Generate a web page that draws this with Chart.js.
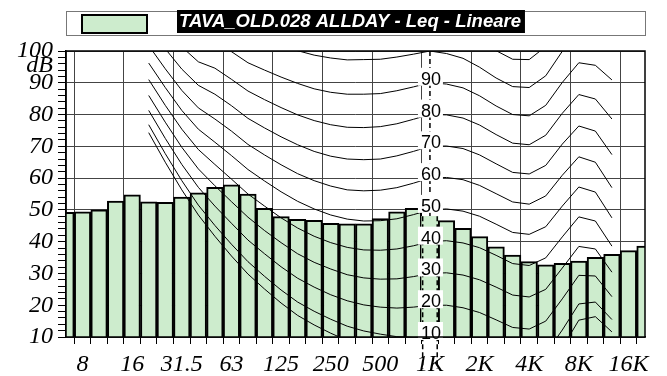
<!DOCTYPE html>
<html>
<head>
<meta charset="utf-8">
<script src="https://cdn.jsdelivr.net/npm/chart.js@4.4.0/dist/chart.umd.min.js"></script>
<style>
html,body{margin:0;padding:0;background:#fff}
#wrap{width:667px;height:376px}
</style>
</head>
<body>
<div id="wrap"><canvas id="myChart" width="667" height="376"></canvas></div>
<script>
// 1/3 octave bands shown on the x axis
var bands = ['6.3','8','10','12.5','16','20','25','31.5','40','50','63','80','100','125','160','200','250','315','400','500','630','800','1K','1.25K','1.6K','2K','2.5K','3.15K','4K','5K','6.3K','8K','10K','12.5K','16K','20K'];
var octaveLabels = ['8','16','31.5','63','125','250','500','1K','2K','4K','8K','16K'];
// measured Leq per band, dB
var leq = [49.2,49.4,50.0,52.8,54.7,52.5,52.4,54.0,55.4,57.1,57.9,55.0,50.5,47.9,47.0,46.7,45.8,45.6,45.6,47.3,49.4,50.5,48.0,46.6,44.2,41.6,38.4,35.8,33.7,32.7,33.2,33.9,35.1,36.0,37.2,38.6];
var labelBand = '1K';
var legendText = 'TAVA_OLD.028 ALLDAY - Leq - Lineare';

// isophone curves, 20 Hz .. 12.5 kHz
var isoFirst = '20';
var phonLabels = [10,20,30,40,50,60,70,80,90];
var threshold = [74.3,65.0,56.3,48.4,41.7,35.5,29.8,25.1,20.7,16.8,13.8,11.2,8.9,7.2,6.0,5.0,4.4,4.2,3.8,2.6,1.0,-1.2,-3.6,-3.9,-1.1,6.6,15.3,16.4,11.6];
var phon10  = [76.8,67.7,59.2,51.5,45.1,39.2,33.7,29.1,24.8,21.0,18.1,15.6,13.4,11.9,10.9,10.1,9.9,10,9.8,8.7,7.2,5.0,2.6,2.2,4.8,12.2,20.4,21.0,15.5];
var phon20  = [81.3,72.5,64.3,57.1,51.2,45.8,40.5,36.2,32.1,28.5,25.7,23.3,21.4,20.1,19.4,19.1,19.4,20,20.0,19.2,17.7,15.4,13.0,12.5,15.0,22.0,29.4,29.2,22.7];
var phon30  = [86.0,77.6,69.7,62.9,57.6,52.6,47.7,43.5,39.7,36.2,33.5,31.4,29.6,28.6,28.2,28.3,29.0,30,30.2,29.5,28.0,25.7,23.2,22.6,25.0,31.7,38.5,37.7,30.4];
var phon40  = [91.0,82.9,75.4,69.0,64.3,59.7,55.0,51.2,47.5,44.3,41.7,39.7,38.2,37.4,37.3,37.7,38.7,40,40.3,39.6,38.1,35.7,33.1,32.5,34.9,41.5,47.8,46.5,38.6];
var phon50  = [96.2,88.5,81.3,75.4,71.3,67.1,62.7,59.1,55.7,52.7,50.3,48.4,47.1,46.5,46.6,47.2,48.5,50,50.3,49.6,48.0,45.5,42.9,42.3,44.7,51.2,57.2,55.6,47.5];
var phon60  = [101.7,94.4,87.6,82.1,78.6,74.8,70.6,67.3,64.2,61.4,59.2,57.5,56.3,56.0,56.2,57.0,58.4,60,60.2,59.5,57.7,55.1,52.5,51.8,54.4,60.9,66.7,65.0,57.0];
var phon70  = [107.6,100.7,94.3,89.2,86.4,82.8,78.8,75.8,73.0,70.5,68.4,66.9,66.0,65.8,66.0,67.0,68.4,70,70.1,69.3,67.3,64.5,61.8,61.3,64.0,70.7,76.4,74.8,67.4];
var phon80  = [113.7,107.3,101.3,96.6,94.6,91.1,87.4,84.7,82.2,79.9,78.1,76.8,76.0,75.9,76.2,77.1,78.5,80,79.9,78.9,76.7,73.7,71.0,70.5,73.5,80.4,86.3,84.9,78.6];
var phon90  = [120.3,114.4,108.7,104.4,103.2,99.8,96.3,94.0,91.8,89.8,88.1,87.0,86.4,86.4,86.6,87.5,88.7,90,89.6,88.4,85.9,82.7,80.0,79.6,82.9,90.1,96.3,95.5,90.9];
var phon100 = [127.2,121.9,116.6,112.6,112.3,108.9,105.6,103.6,101.8,100.1,98.7,97.8,97.2,97.3,97.4,98.1,99.0,100,99.2,97.7,94.9,91.5,88.8,88.5,92.2,99.9,106.6,106.4,104.3];
var phon110 = [134.6,129.8,125.0,121.3,121.9,118.4,115.3,113.7,112.3,110.9,109.7,109.0,108.6,108.6,108.6,109.0,109.5,110,108.7,107.0,103.8,100.1,97.4,97.3,101.4,109.6,117.0,117.9,119.0];
var curves = [threshold,phon10,phon20,phon30,phon40,phon50,phon60,phon70,phon80,phon90,phon100,phon110];

var barFill = '#cdeccd';

function fullSeries(arr){
    var out = [];
    var a = bands.indexOf(isoFirst);
    for (var i=0;i<bands.length;i++){
        var k = i - a;
        out.push(k>=0 && k<arr.length ? arr[k] : null);
    }
    return out;
}

var datasets = [];
curves.forEach(function(c){
    datasets.push({
        type:'line', data: fullSeries(c), borderColor:'#000', borderWidth:1,
        pointRadius:0, fill:false, tension:0, order:0
    });
});
var labelIdx = bands.indexOf(labelBand);
datasets.push({
    type:'bar', data: leq, backgroundColor: barFill, borderColor:'#000',
    borderWidth: bands.map(function(b,i){ return i==labelIdx ? 0 : 2; }),
    borderSkipped:'start', categoryPercentage:1, barPercentage:1, order:1
});

var serif = "'Liberation Serif','Times New Roman',serif";
var sans = "'Liberation Sans',Arial,sans-serif";

var decor = {
    id:'decor',
    beforeDraw: function(chart){
        var ctx = chart.ctx, ca = chart.chartArea;
        ctx.save();
        // legend box
        ctx.strokeStyle = '#777'; ctx.lineWidth = 1;
        ctx.strokeRect(ca.left+0.5, 11.5, ca.right-ca.left, 24);
        ctx.fillStyle = barFill; ctx.fillRect(82, 15, 65, 18);
        ctx.strokeStyle = '#000'; ctx.lineWidth = 2; ctx.strokeRect(82, 15, 65, 18);
        ctx.font = 'italic bold 18.5px ' + sans;
        var w = ctx.measureText(legendText).width;
        ctx.fillStyle = '#000'; ctx.fillRect(177, 10, w+6, 23);
        ctx.fillStyle = '#fff'; ctx.textBaseline = 'middle'; ctx.textAlign = 'left';
        ctx.fillText(legendText, 179, 22);
        ctx.restore();
    },
    afterDatasetsDraw: function(chart){
        var ctx = chart.ctx, ca = chart.chartArea, y = chart.scales.y;
        var bar = chart.getDatasetMeta(chart.data.datasets.length-1).data[labelIdx];
        ctx.save();
        ctx.strokeStyle = '#000'; ctx.lineWidth = 1.5; ctx.setLineDash([5,3]);
        ctx.beginPath();
        ctx.moveTo(bar.x, ca.top); ctx.lineTo(bar.x, bar.y);
        ctx.moveTo(bar.x - bar.width/2 + 1, bar.y); ctx.lineTo(bar.x - bar.width/2 + 1, bar.base);
        ctx.moveTo(bar.x + bar.width/2 - 1, bar.y); ctx.lineTo(bar.x + bar.width/2 - 1, bar.base);
        ctx.stroke();
        ctx.setLineDash([]);
        ctx.font = '18px ' + sans;
        ctx.textAlign = 'center'; ctx.textBaseline = 'alphabetic';
        phonLabels.forEach(function(p){
            var py = y.getPixelForValue(p);
            ctx.fillStyle = '#fff';
            ctx.fillRect(bar.x - 12, py - 15, 25, 18);
            ctx.fillStyle = '#000';
            ctx.fillText(String(p), bar.x + 1, py + 2);
        });
        ctx.restore();
    },
    afterDraw: function(chart){
        var ctx = chart.ctx, ca = chart.chartArea;
        ctx.save();
        ctx.strokeStyle = '#000'; ctx.lineWidth = 1.5;
        ctx.strokeRect(ca.left, ca.top, ca.right-ca.left, ca.bottom-ca.top);
        ctx.font = 'italic 24px ' + serif;
        ctx.fillStyle = '#000'; ctx.textAlign = 'right'; ctx.textBaseline = 'middle';
        ctx.fillText('dB', 53, 66);
        ctx.restore();
    }
};

var chart = new Chart(document.getElementById('myChart').getContext('2d'), {
    data: { labels: bands, datasets: datasets },
    options: {
        responsive:false, animation:false,
        layout:{ padding:{ top:51, right:22, left:0, bottom:0 } },
        plugins:{ legend:{display:false}, tooltip:{enabled:false} },
        scales:{
            x:{
                type:'category', offset:false,
                afterFit: function(s){ s.height = 39; },
                grid:{
                    color: function(c){ return c.tick && octaveLabels.indexOf(bands[c.index])>=0 ? '#444' : 'rgba(0,0,0,0)'; },
                    tickColor:'#000', tickLength:7, lineWidth:1
                },
                border:{display:true, color:'#000', width:1.5},
                ticks:{
                    autoSkip:false, maxRotation:0, padding:6, color:'#000',
                    font:{family:serif, size:24, style:'italic'},
                    callback: function(v, i){ return octaveLabels.indexOf(bands[i])>=0 ? bands[i] : ''; }
                }
            },
            y:{
                min:10, max:100,
                afterFit: function(s){ s.width = 66; },
                grid:{
                    color: function(c){ return c.tick && c.tick.value % 10 === 0 ? '#444' : 'rgba(0,0,0,0)'; },
                    tickColor:'#000', tickLength:8, lineWidth:1
                },
                border:{display:true, color:'#000', width:1.5},
                ticks:{
                    autoSkip:false, stepSize:2, padding:5, color:'#000',
                    font:{family:serif, size:24, style:'italic'},
                    callback: function(v){ return v % 10 === 0 ? v : ''; }
                }
            }
        }
    },
    plugins:[decor]
});
</script>
</body>
</html>
